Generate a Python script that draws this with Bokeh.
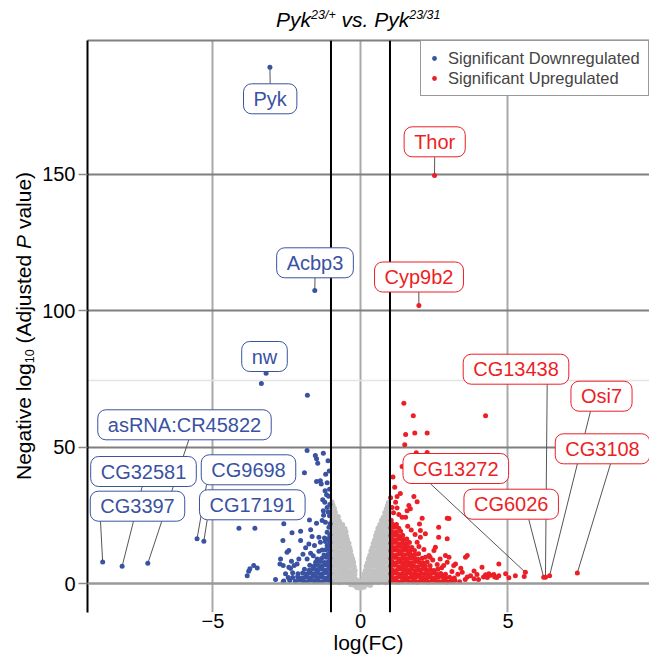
from bokeh.plotting import figure
from bokeh.models import (Range1d, FixedTicker, Span, Label, Legend, LegendItem,
                          LinearAxis, ColumnDataSource, Div)
from bokeh.layouts import column, row
from bokeh.embed import file_html
from bokeh.resources import INLINE

# ---------------- data ----------------
# non-significant genes (|logFC| < 1)
gray_pts = [
    (-0.12, -1.4), (0.0, -1.7), (0.12, -1.3),
    (-0.33, -0.3), (-0.2, -0.6), (-0.07, -0.2), (0.07, -0.5), (0.2, -0.3), (0.33, -0.6),
    (-0.98, 0.5), (-0.85, 0.8), (-0.72, 0.4), (-0.59, 0.7), (-0.46, 0.5), (-0.33, 0.8), (-0.2, 0.6), (-0.07, 0.9),
    (0.07, 0.7), (0.2, 0.4), (0.33, 0.8), (0.46, 0.6), (0.59, 0.5), (0.72, 0.8), (0.85, 0.4), (0.98, 0.7),
    (-0.96, 2.1), (-0.83, 1.8), (-0.70, 2.2), (-0.57, 1.9), (-0.44, 2.3), (-0.31, 2.0), (-0.18, 1.8),
    (0.10, 2.2), (0.21, 1.9), (0.34, 2.3), (0.47, 2.0), (0.60, 1.8), (0.73, 2.2), (0.86, 1.9), (0.98, 2.1),
    (-0.98, 3.3), (-0.85, 3.6), (-0.72, 3.2), (-0.59, 3.5), (-0.46, 3.3), (-0.33, 3.6), (-0.20, 3.4),
    (0.13, 3.5), (0.25, 3.2), (0.38, 3.6), (0.51, 3.3), (0.64, 3.5), (0.77, 3.2), (0.90, 3.6),
    (-0.96, 4.9), (-0.83, 4.6), (-0.70, 5.0), (-0.57, 4.7), (-0.44, 4.9), (-0.31, 4.6), (-0.19, 4.8),
    (0.17, 4.7), (0.30, 5.0), (0.43, 4.6), (0.56, 4.9), (0.69, 4.7), (0.82, 5.0), (0.95, 4.8),
    (-0.98, 6.1), (-0.85, 6.4), (-0.72, 6.0), (-0.59, 6.3), (-0.46, 6.1), (-0.33, 6.4), (-0.22, 6.2),
    (0.20, 6.3), (0.33, 6.0), (0.46, 6.4), (0.59, 6.1), (0.72, 6.3), (0.85, 6.0), (0.98, 6.2),
    (-0.96, 7.7), (-0.83, 7.4), (-0.70, 7.8), (-0.57, 7.5), (-0.44, 7.7), (-0.32, 7.4), (-0.24, 7.7),
    (0.24, 7.5), (0.37, 7.8), (0.50, 7.4), (0.63, 7.7), (0.76, 7.5), (0.89, 7.8),
    (-0.98, 8.9), (-0.85, 9.2), (-0.72, 8.8), (-0.59, 9.1), (-0.46, 8.9), (-0.35, 9.2), (-0.27, 9.0),
    (0.28, 9.1), (0.41, 8.8), (0.54, 9.2), (0.67, 8.9), (0.80, 9.1), (0.93, 8.8),
    (-0.96, 10.5), (-0.83, 10.2), (-0.70, 10.6), (-0.57, 10.3), (-0.44, 10.5), (-0.31, 10.3),
    (0.32, 10.3), (0.45, 10.6), (0.58, 10.2), (0.71, 10.5), (0.84, 10.3), (0.97, 10.6),
    (-0.98, 11.7), (-0.85, 12.0), (-0.72, 11.6), (-0.59, 11.9), (-0.46, 11.7), (-0.34, 11.9),
    (0.36, 11.9), (0.49, 11.6), (0.62, 12.0), (0.75, 11.7), (0.88, 11.9),
    (-0.96, 13.3), (-0.83, 13.0), (-0.70, 13.4), (-0.57, 13.1), (-0.45, 13.3), (-0.37, 13.1),
    (0.40, 13.1), (0.53, 13.4), (0.66, 13.0), (0.79, 13.3), (0.92, 13.1),
    (-0.98, 14.5), (-0.85, 14.8), (-0.72, 14.4), (-0.59, 14.7), (-0.48, 14.5), (-0.40, 14.8),
    (0.44, 14.7), (0.57, 14.4), (0.70, 14.8), (0.83, 14.5), (0.96, 14.7),
    (-0.96, 16.1), (-0.83, 15.8), (-0.70, 16.2), (-0.57, 15.9), (-0.45, 16.1),
    (0.48, 15.9), (0.61, 16.2), (0.74, 15.8), (0.87, 16.1),
    (-0.98, 17.3), (-0.85, 17.6), (-0.72, 17.2), (-0.59, 17.5), (-0.48, 17.3),
    (0.52, 17.5), (0.65, 17.2), (0.78, 17.6), (0.91, 17.3),
    (-0.96, 18.9), (-0.83, 18.6), (-0.70, 19.0), (-0.58, 18.7), (-0.50, 18.9),
    (0.56, 18.7), (0.69, 19.0), (0.82, 18.6), (0.95, 18.9),
    (-0.98, 20.1), (-0.85, 20.4), (-0.72, 20.0), (-0.60, 20.3), (-0.53, 20.1),
    (0.60, 20.3), (0.73, 20.0), (0.86, 20.4), (0.98, 20.1),
    (-0.96, 21.7), (-0.83, 21.4), (-0.70, 21.8), (-0.61, 21.5),
    (0.66, 21.5), (0.79, 21.8), (0.92, 21.4),
    (-0.98, 22.9), (-0.85, 23.2), (-0.72, 22.8),
    (0.72, 23.1), (0.85, 22.8), (0.97, 23.2),
    (-0.96, 24.5), (-0.84, 24.2), (-0.76, 24.5), (0.78, 24.3), (0.90, 24.6),
    (-0.97, 25.7), (-0.86, 26.0), (0.83, 25.9), (0.95, 25.6),
    (-0.98, 27.1), (-0.89, 27.4), (0.88, 27.3), (0.97, 27.0),
    (-0.94, 28.7), (0.92, 28.5), (-0.97, 29.9), (0.95, 29.6),
]

# significant downregulated genes
down_pts = [
    (-1.04, 0.9), (-1.17, 1.2), (-1.30, 0.7), (-1.43, 1.0), (-1.56, 0.8), (-1.69, 1.2), (-1.82, 0.7),
    (-1.95, 1.0), (-2.08, 1.3), (-2.21, 0.8), (-2.40, 1.1), (-2.62, 0.7),
    (-1.09, 2.3), (-1.22, 2.0), (-1.35, 2.5), (-1.48, 2.2), (-1.61, 2.6), (-1.74, 2.1), (-1.87, 2.4),
    (-2.00, 2.0), (-2.13, 2.5), (-2.30, 2.2),
    (-1.04, 3.7), (-1.17, 4.0), (-1.30, 3.5), (-1.43, 3.8), (-1.56, 3.6), (-1.69, 4.0), (-1.82, 3.5),
    (-1.96, 3.9), (-2.12, 3.6),
    (-1.09, 5.2), (-1.22, 4.9), (-1.35, 5.3), (-1.48, 5.0), (-1.61, 5.4), (-1.74, 4.9), (-1.90, 5.2),
    (-1.04, 6.5), (-1.17, 6.8), (-1.30, 6.3), (-1.43, 6.6), (-1.57, 6.4), (-1.72, 6.7),
    (-1.09, 8.0), (-1.22, 7.7), (-1.36, 8.1), (-1.52, 7.8),
    (-1.04, 9.3), (-1.17, 9.6), (-1.32, 9.2), (-1.09, 10.8), (-1.24, 10.5),
    (-1.04, 12.1), (-1.18, 12.4), (-1.09, 13.6), (-1.04, 15.0), (-1.10, 16.4), (-1.04, 17.8),
    (-1.07, 20.6), (-1.03, 21.9), (-1.05, 24.8), (-1.10, 26.2), (-1.04, 29.0), (-1.08, 32.0), (-1.05, 34.5),
    (-1.80, 69.0), (-3.36, 73.3), (-1.81, 48.7), (-1.53, 46.9), (-1.49, 45.7), (-1.45, 44.1), (-1.90, 40.6),
    (-1.36, 37.7), (-1.49, 37.4), (-1.33, 36.5), (-1.13, 36.9), (-1.28, 30.7), (-1.21, 29.8),
    (-1.13, 27.9), (-1.26, 26.7), (-1.73, 23.3), (-1.49, 22.1), (-1.30, 23.1), (-1.19, 22.5),
    (-4.12, 20.3), (-3.58, 20.3), (-2.60, 21.9), (-2.32, 18.6), (-2.03, 19.2), (-1.69, 19.7),
    (-1.64, 17.2), (-1.41, 17.0), (-1.22, 16.7), (-1.13, 18.8), (-2.63, 15.8), (-2.03, 15.8),
    (-1.75, 14.5), (-1.56, 13.9), (-1.36, 15.1), (-1.19, 15.4), (-1.13, 13.9), (-1.30, 12.3),
    (-1.41, 11.8), (-2.43, 12.1), (-2.49, 11.5), (-1.86, 13.1), (-1.69, 11.1), (-1.47, 9.0),
    (-1.81, 9.0), (-2.09, 9.0), (-2.34, 8.2), (-2.71, 9.0), (-2.73, 7.2), (-2.62, 6.6), (-2.43, 6.0),
    (-2.15, 7.2), (-3.62, 6.6), (-3.50, 5.7), (-3.79, 4.5), (-3.84, 2.9), (-3.75, 5.4), (-2.88, 1.5),
    (-2.54, 3.6), (-2.45, 2.2), (-2.30, 4.0), (-2.60, 0.9), (-2.37, 5.5), (-2.25, 6.6), (-1.60, 10.2),
    (-1.95, 10.7), (-1.25, 25.0), (-1.15, 32.5), (-1.20, 34.0), (-1.06, 41.2), (-1.10, 45.0),
    (-1.18, 40.0), (-1.26, 47.7),
]

# significant upregulated genes
up_pts = [
    (1.03, 0.8), (1.15, 1.1), (1.28, 0.6), (1.41, 0.9), (1.53, 1.2), (1.66, 0.7), (1.79, 1.0), (1.92, 0.6),
    (2.04, 1.1), (2.17, 0.8), (2.30, 0.6), (2.43, 1.2), (2.55, 0.9), (2.68, 0.7), (2.81, 1.0), (2.94, 0.6),
    (3.07, 0.9), (3.20, 1.1), (3.36, 0.7),
    (1.08, 2.3), (1.21, 2.0), (1.34, 2.5), (1.47, 2.2), (1.60, 1.9), (1.72, 2.4), (1.85, 2.1), (1.98, 2.6),
    (2.11, 2.2), (2.24, 1.9), (2.37, 2.4), (2.50, 2.0), (2.63, 2.3), (2.76, 2.6), (2.89, 2.1), (3.02, 2.3), (3.18, 2.0),
    (1.03, 3.6), (1.16, 3.9), (1.29, 3.4), (1.42, 3.7), (1.55, 3.5), (1.67, 3.9), (1.80, 3.6), (1.93, 3.3),
    (2.06, 3.8), (2.19, 3.6), (2.32, 3.4), (2.45, 3.9), (2.58, 3.5), (2.72, 3.7), (2.88, 3.4),
    (1.08, 5.0), (1.21, 4.8), (1.34, 5.3), (1.47, 5.1), (1.60, 4.9), (1.73, 5.2), (1.86, 4.8), (1.99, 5.0),
    (2.12, 5.3), (2.24, 4.9), (2.37, 5.1), (2.49, 4.8), (2.62, 5.2),
    (1.03, 6.4), (1.16, 6.7), (1.29, 6.2), (1.42, 6.5), (1.55, 6.3), (1.68, 6.6), (1.81, 6.4), (1.94, 6.2),
    (2.07, 6.7), (2.20, 6.3), (2.36, 6.5),
    (1.08, 7.9), (1.21, 7.6), (1.34, 8.0), (1.47, 7.7), (1.60, 7.9), (1.73, 7.6), (1.86, 8.1), (1.99, 7.8),
    (2.12, 7.6), (2.26, 7.9),
    (1.03, 9.2), (1.16, 9.5), (1.29, 9.0), (1.42, 9.3), (1.55, 9.1), (1.68, 9.4), (1.81, 9.2), (1.94, 9.0), (2.09, 9.3),
    (1.08, 10.6), (1.21, 10.4), (1.34, 10.8), (1.47, 10.5), (1.60, 10.7), (1.73, 10.4), (1.85, 10.6), (1.97, 10.9),
    (1.03, 12.0), (1.16, 12.3), (1.29, 11.8), (1.42, 12.1), (1.55, 12.2), (1.68, 11.9), (1.83, 12.1),
    (1.08, 13.4), (1.21, 13.2), (1.34, 13.6), (1.47, 13.3), (1.60, 13.5), (1.74, 13.2),
    (1.03, 14.8), (1.16, 15.0), (1.29, 14.6), (1.42, 14.9), (1.54, 14.7), (1.66, 15.0),
    (1.08, 16.2), (1.21, 16.0), (1.34, 16.4), (1.46, 16.1), (1.57, 16.3),
    (1.03, 17.6), (1.16, 17.8), (1.29, 17.5), (1.43, 17.7),
    (1.08, 19.0), (1.21, 18.8), (1.36, 19.2), (1.03, 20.4), (1.16, 20.6), (1.30, 20.3),
    (1.08, 21.8), (1.22, 21.6), (1.04, 23.2),
    (1.47, 66.0), (1.79, 61.5), (4.24, 61.5), (1.53, 54.6), (1.84, 55.1), (2.26, 55.1), (1.50, 50.8),
    (1.89, 47.9), (2.26, 48.0), (1.41, 42.9), (1.16, 35.3), (1.02, 31.4), (1.24, 31.9), (1.19, 29.8),
    (1.07, 27.9), (1.24, 27.7), (1.81, 31.9), (1.92, 30.0), (1.64, 28.6), (1.69, 27.4), (1.58, 26.7),
    (1.30, 25.3), (1.41, 24.3), (1.53, 24.3), (2.09, 23.9), (2.94, 23.9), (3.00, 23.8), (2.65, 20.6),
    (2.03, 19.4), (2.20, 18.2), (2.03, 17.0), (1.92, 15.1), (2.65, 17.0), (2.94, 16.4), (2.54, 13.3),
    (2.49, 12.1), (2.32, 10.3), (2.20, 9.6), (2.88, 10.3), (3.00, 9.6), (2.94, 7.8), (2.82, 6.6),
    (3.62, 10.3), (3.56, 9.6), (3.22, 7.2), (3.16, 6.6), (4.12, 6.0), (4.69, 7.2), (3.45, 4.1),
    (3.73, 2.9), (3.95, 3.3), (4.24, 3.2), (4.35, 3.6), (4.52, 3.3), (4.69, 2.9), (4.17, 2.4),
    (4.30, 2.2), (4.41, 3.0), (4.55, 2.4), (4.62, 2.2), (4.92, 3.6), (5.03, 2.1), (5.25, 2.9),
    (5.55, 2.6), (3.55, 1.5), (3.62, 2.4), (3.85, 1.8), (3.30, 3.4), (3.10, 4.4), (2.75, 5.8),
    (2.60, 7.0), (2.45, 8.6), (2.36, 9.6), (1.72, 19.6), (1.60, 21.0), (1.85, 18.0), (1.10, 39.0),
    (1.35, 33.0), (1.98, 13.6), (2.15, 12.5), (2.70, 9.0), (3.40, 5.6), (3.85, 4.6), (4.00, 1.5),
    (2.00, 21.8), (1.12, 25.9),
]

# labelled genes
genes = ["Pyk", "Acbp3", "nw", "asRNA:CR45822", "CG32581", "CG3397", "CG9698", "CG17191",
         "Thor", "Cyp9b2", "CG13272", "CG6026", "CG13438", "Osi7", "CG3108"]
gene_fc = [-3.07, -1.55, -3.20, -7.21, -8.08, -8.74, -5.54, -5.31,
           2.51, 1.98, 5.59, 6.21, 6.27, 6.41, 7.35]
gene_p = [189.1, 107.3, 77.0, 7.4, 6.3, 7.9, 16.4, 15.5,
          149.5, 101.8, 4.1, 2.3, 2.3, 2.9, 3.9]
gene_dir = ["down"] * 8 + ["up"] * 7

x_ticks = [-5, 0, 5]
x_tick_labels = ["\u22125", "0", "5"]
y_ticks = [0, 50, 100, 150]
y_grid = [50, 100, 150]
fc_cut = 1.0
faint_line = 74.4

title_gene = "Pyk"
title_geno = ["23/+", "23/31"]
x_label = "log(FC)"
legend_labels = ["Significant Downregulated", "Significant Upregulated"]

# ---------------- layout / style ----------------
BLUE = "#3a52a2"
RED = "#ec1f26"
GRAY = "#c2c2c2"
FONT = "Liberation Sans"

X0, X1 = -9.254, 9.797
Y0, Y1 = -10.6, 198.9
TOTAL_W, TOTAL_H = 649, 663
TITLE_H = 38
YLAB_W = 37
PW, PH = TOTAL_W - YLAB_W, TOTAL_H - TITLE_H
FRAME_L, FRAME_T, FRAME_B = 87, 40, 612     # picture pixels
ML = FRAME_L - YLAB_W
MT = FRAME_T - TITLE_H
MB = PH - MT - (FRAME_B - FRAME_T)
SX = (TOTAL_W - FRAME_L) / (X1 - X0)
SY = (FRAME_B - FRAME_T) / (Y1 - Y0)


def px2x(px):  # picture pixel -> data x
    return X0 + (px - FRAME_L) / SX


def py2y(py):  # picture pixel -> data y
    return Y1 - (py - FRAME_T) / SY


def scx(px):  # picture pixel -> frame-relative screen x
    return px - FRAME_L


def scy(py):  # picture pixel -> frame-relative screen y (up)
    return FRAME_B - py


p = figure(width=PW, height=PH, output_backend="svg", toolbar_location=None,
           x_range=Range1d(X0, X1), y_range=Range1d(Y0, Y1),
           min_border_left=ML, min_border_right=0, min_border_top=MT, min_border_bottom=MB)
p.outline_line_color = None
p.background_fill_color = "white"
p.border_fill_color = "white"

# axes
xa = p.xaxis[0]
xa.ticker = FixedTicker(ticks=x_ticks)
xa.major_label_overrides = {t: l for t, l in zip(x_ticks, x_tick_labels)}
xa.axis_line_color = None
xa.major_tick_line_color = None
xa.minor_tick_line_color = None
xa.major_tick_out = 0
xa.major_tick_in = 0
xa.major_label_standoff = 1
xa.major_label_text_font = FONT
xa.major_label_text_font_size = "20px"
xa.major_label_text_color = "black"
xa.axis_label = x_label
xa.axis_label_standoff = 0
xa.axis_label_text_font = FONT
xa.axis_label_text_font_size = "21px"
xa.axis_label_text_font_style = "normal"
xa.axis_label_text_color = "black"

ya = p.yaxis[0]
ya.ticker = FixedTicker(ticks=y_ticks)
ya.axis_line_color = "black"
ya.axis_line_width = 2
ya.major_tick_line_color = "#8a8a8a"
ya.major_tick_line_width = 1.5
ya.major_tick_out = 9
ya.major_tick_in = 0
ya.minor_tick_line_color = None
ya.major_label_standoff = 3
ya.major_label_text_font = FONT
ya.major_label_text_font_size = "20px"
ya.major_label_text_color = "black"

top_axis = LinearAxis(ticker=FixedTicker(ticks=[]), axis_line_color="#808080", axis_line_width=2,
                      major_tick_line_color=None, minor_tick_line_color=None,
                      major_tick_out=0, major_tick_in=0, major_label_text_font_size="0px")
p.add_layout(top_axis, "above")

p.xgrid.ticker = FixedTicker(ticks=x_ticks)
p.xgrid.grid_line_color = "#a9a9a9"
p.xgrid.grid_line_width = 2
p.ygrid.ticker = FixedTicker(ticks=y_grid)
p.ygrid.grid_line_color = "#7f7f7f"
p.ygrid.grid_line_width = 2

p.add_layout(Span(location=faint_line, dimension="width", line_color="#e4e4e4",
                  line_width=1.5, level="underlay"))

# points
p.scatter([a for a, b in gray_pts], [b for a, b in gray_pts], size=5.5,
          fill_color=GRAY, line_color=None)
r_down = p.scatter([a for a, b in down_pts], [b for a, b in down_pts], size=5,
                   fill_color=BLUE, line_color=None)
r_up = p.scatter([a for a, b in up_pts], [b for a, b in up_pts], size=5,
                 fill_color=RED, line_color=None)

# threshold / zero lines on top of points
p.add_layout(Span(location=0, dimension="width", line_color="#9a9a9a", line_width=2.5))
p.add_layout(Span(location=-fc_cut, dimension="height", line_color="black", line_width=2))
p.add_layout(Span(location=fc_cut, dimension="height", line_color="black", line_width=2))

# leader lines and labelled points (label box centres / line starts in picture pixels)
lab_px = [269.7, 314.5, 264.0, 184.0, 143.0, 137.0, 248.0, 251.8,
          434.2, 418.5, 455.3, 510.7, 515.5, 601.0, 602.0]
lab_py = [98.3, 262.3, 356.0, 424.3, 471.0, 505.7, 469.3, 504.3,
          141.3, 276.5, 468.0, 503.7, 368.7, 395.7, 448.3]
lead_px = [269.7, 314.5, 264.0, 188.3, 141.7, 100.0, 206.0, 206.7,
           434.2, 418.3, 430.0, 528.3, 546.7, 590.0, 610.0]
lead_py = [83.3, 277.3, 370.0, 439.3, 486.0, 520.7, 484.3, 519.3,
           156.7, 291.0, 483.3, 519.0, 383.3, 410.7, 463.3]

seg = ColumnDataSource(dict(x0=[px2x(v) for v in lead_px], y0=[py2y(v) for v in lead_py],
                            x1=gene_fc, y1=gene_p))
p.segment("x0", "y0", "x1", "y1", source=seg, line_color="#555555", line_width=1)

gcol = [BLUE if d == "down" else RED for d in gene_dir]
p.scatter(gene_fc, gene_p, size=5, fill_color=gcol, line_color=None)

for g, lx, ly, c in zip(genes, lab_px, lab_py, gcol):
    p.add_layout(Label(x=scx(lx), y=scy(ly), x_units="screen", y_units="screen",
                       text=g, text_align="center", text_baseline="middle",
                       text_font=FONT, text_font_size="20px", text_color=c,
                       background_fill_color="white", background_fill_alpha=1.0,
                       border_line_color=c, border_line_width=1, border_radius=8,
                       padding=dict(left=10, right=10, top=4, bottom=4)))

# legend
legend = Legend(items=[LegendItem(label=legend_labels[0], renderers=[r_down]),
                       LegendItem(label=legend_labels[1], renderers=[r_up])],
                location="top_right", margin=0, padding=7, spacing=0,
                glyph_width=12, glyph_height=20, label_height=20, label_width=193,
                label_standoff=8, label_text_font=FONT, label_text_font_size="16.5px",
                border_line_color="#333333", border_line_width=1,
                background_fill_color="white", background_fill_alpha=1.0)
p.add_layout(legend)

# ---------------- title and y-axis label (rich text) ----------------
SUP = "font-size:12.5px;position:relative;top:-8px;"
title_html = (
    f'<div style="position:relative;width:{TOTAL_W}px;height:{TITLE_H}px;">'
    f'<div style="position:absolute;left:276px;top:9px;white-space:nowrap;'
    f"font-family:'{FONT}';font-style:italic;font-size:21px;line-height:21px;color:#000;\">"
    f'{title_gene}<span style="{SUP}">{title_geno[0]}</span> vs. '
    f'{title_gene}<span style="{SUP}">{title_geno[1]}</span></div></div>'
)
title_div = Div(text=title_html, width=TOTAL_W, height=TITLE_H, margin=(0, 0, 0, 0))

ylab_top = 480 - TITLE_H
ylab_html = (
    f'<div style="position:relative;width:{YLAB_W}px;height:{PH}px;">'
    f'<div style="position:absolute;left:13px;top:{ylab_top}px;transform:rotate(-90deg);'
    f"transform-origin:0 0;white-space:nowrap;font-family:'{FONT}';font-size:21px;"
    f'line-height:21px;color:#000;">'
    f'Negative log<span style="font-size:12.5px;position:relative;top:3px;">10</span>'
    f' (Adjusted <i>P</i> value)</div></div>'
)
ylab_div = Div(text=ylab_html, width=YLAB_W, height=PH, margin=(0, 0, 0, 0))

layout = column(title_div, row(ylab_div, p, spacing=0), spacing=0)

open("out.html", "w").write(file_html(layout, INLINE))
